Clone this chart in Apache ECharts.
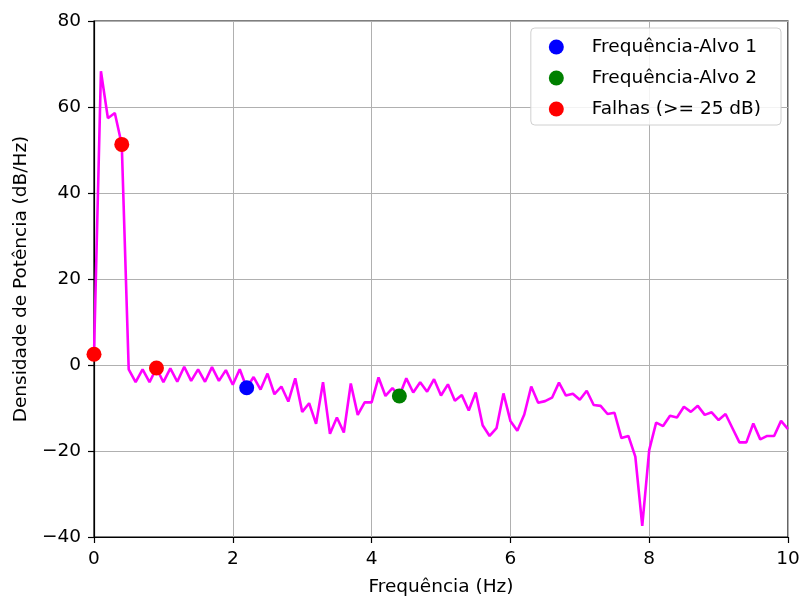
<!DOCTYPE html>
<html>
<head>
<meta charset="utf-8">
<script src="https://cdn.jsdelivr.net/npm/echarts@6/dist/echarts.min.js"></script>
<style>
  html, body { margin: 0; padding: 0; background: #fff; }
  #chart { width: 800px; height: 596px; }
</style>
</head>
<body>
<div id="chart"></div>
<script>
// Power spectral density sampled every 0.1 Hz
const freqs = [
  0.0, 0.1, 0.2, 0.3, 0.4, 0.5, 0.6, 0.7, 0.8, 0.9,
  1.0, 1.1, 1.2, 1.3, 1.4, 1.5, 1.6, 1.7, 1.8, 1.9,
  2.0, 2.1, 2.2, 2.3, 2.4, 2.5, 2.6, 2.7, 2.8, 2.9,
  3.0, 3.1, 3.2, 3.3, 3.4, 3.5, 3.6, 3.7, 3.8, 3.9,
  4.0, 4.1, 4.2, 4.3, 4.4, 4.5, 4.6, 4.7, 4.8, 4.9,
  5.0, 5.1, 5.2, 5.3, 5.4, 5.5, 5.6, 5.7, 5.8, 5.9,
  6.0, 6.1, 6.2, 6.3, 6.4, 6.5, 6.6, 6.7, 6.8, 6.9,
  7.0, 7.1, 7.2, 7.3, 7.4, 7.5, 7.6, 7.7, 7.8, 7.9,
  8.0, 8.1, 8.2, 8.3, 8.4, 8.5, 8.6, 8.7, 8.8, 8.9,
  9.0, 9.1, 9.2, 9.3, 9.4, 9.5, 9.6, 9.7, 9.8, 9.9,
  10.0
];
const psd = [
  2.5, 68.3, 57.4, 58.6, 51.3, -1.0, -4.0, -1.0, -4.0, -0.7,
  -4.0, -0.8, -3.9, -0.4, -3.7, -1.0, -3.9, -0.5, -3.7, -1.2,
  -4.6, -1.0, -5.3, -2.8, -5.7, -2.0, -6.8, -5.0, -8.5, -3.1,
  -10.9, -8.9, -13.7, -4.0, -16.0, -12.2, -15.7, -4.3, -11.6, -8.7,
  -8.7, -2.9, -7.2, -5.4, -7.2, -3.1, -6.4, -4.0, -6.2, -3.3,
  -7.1, -4.5, -8.3, -7.0, -10.6, -6.4, -14.0, -16.5, -14.7, -6.6,
  -13.0, -15.3, -11.5, -5.0, -8.8, -8.4, -7.6, -4.1, -7.1, -6.7,
  -8.1, -6.0, -9.3, -9.5, -11.4, -11.1, -17.0, -16.5, -21.3, -37.4,
  -19.8, -13.4, -14.2, -11.8, -12.2, -9.7, -10.9, -9.5, -11.6, -11.0,
  -12.8, -11.4, -14.7, -18.0, -18.0, -13.6, -17.3, -16.5, -16.5, -13.0,
  -14.9
];

// Highlighted sample indices
const target1Idx = [22];       // 2.2 Hz
const target2Idx = [44];       // 4.4 Hz
const faultIdx = [0, 4, 9];    // 0.0, 0.4, 0.9 Hz

// Axis ticks
const xTicks = [0, 2, 4, 6, 8, 10];
const yTicks = [-40, -20, 0, 20, 40, 60, 80];

const seriesNames = ['Frequência-Alvo 1', 'Frequência-Alvo 2', 'Falhas (>= 25 dB)'];

const pick = idx => idx.map(i => [freqs[i], psd[i]]);
const font = 'DejaVu Sans, sans-serif';
const fs = 18.5;
const minus = v => String(v).replace('-', '\u2212');

const chart = echarts.init(document.getElementById('chart'), null, { renderer: 'canvas' });
chart.setOption({
  animation: false,
  backgroundColor: '#fff',
  grid: {
    left: 94, right: 12, top: 21, bottom: 59,
    containLabel: false, outerBoundsMode: 'none',
    show: true, borderColor: '#000', borderWidth: 1.2, backgroundColor: 'transparent'
  },
  legend: {
    orient: 'vertical',
    right: 19, top: 28,
    data: seriesNames,
    icon: 'circle',
    itemWidth: 15, itemHeight: 15,
    itemGap: 11,
    padding: [9, 20, 6, 18],
    backgroundColor: 'rgba(255,255,255,0.85)',
    borderColor: '#d0d0d0', borderWidth: 1, borderRadius: 4,
    textStyle: { fontFamily: font, fontSize: fs, lineHeight: 20, color: '#000', padding: [0, 0, 0, 23] }
  },
  xAxis: {
    type: 'value',
    min: xTicks[0], max: xTicks[xTicks.length - 1], interval: 2,
    name: 'Frequência (Hz)', nameLocation: 'middle', nameGap: 41,
    nameTextStyle: { fontFamily: font, fontSize: fs, color: '#000' },
    axisLine: { show: true, onZero: false, lineStyle: { color: '#000', width: 1.2 } },
    axisTick: { show: true, length: 6, lineStyle: { color: '#000', width: 1.2 } },
    axisLabel: { fontFamily: font, fontSize: fs, color: '#000', margin: 13, formatter: minus },
    splitLine: { show: true, lineStyle: { color: '#b0b0b0', width: 1 } }
  },
  yAxis: {
    type: 'value',
    min: yTicks[0], max: yTicks[yTicks.length - 1], interval: 20,
    name: 'Densidade de Potência (dB/Hz)', nameLocation: 'middle', nameGap: 63,
    nameTextStyle: { fontFamily: font, fontSize: fs, color: '#000' },
    axisLine: { show: true, onZero: false, lineStyle: { color: '#000', width: 1.2 } },
    axisTick: { show: true, length: 6, lineStyle: { color: '#000', width: 1.2 } },
    axisLabel: { fontFamily: font, fontSize: fs, color: '#000', margin: 13, formatter: minus },
    splitLine: { show: true, lineStyle: { color: '#b0b0b0', width: 1 } }
  },
  series: [
    {
      name: 'PSD', type: 'line',
      data: freqs.map((f, i) => [f, psd[i]]),
      showSymbol: false, symbol: 'none',
      lineStyle: { color: '#ff00ff', width: 2.6 },
      z: 2
    },
    {
      name: seriesNames[0], type: 'scatter', data: pick(target1Idx),
      symbolSize: 15, itemStyle: { color: '#0000ff', opacity: 1 }, z: 3
    },
    {
      name: seriesNames[1], type: 'scatter', data: pick(target2Idx),
      symbolSize: 15, itemStyle: { color: '#008000', opacity: 1 }, z: 3
    },
    {
      name: seriesNames[2], type: 'scatter', data: pick(faultIdx),
      symbolSize: 15, itemStyle: { color: '#ff0000', opacity: 1 }, z: 3
    }
  ]
});
</script>
</body>
</html>
